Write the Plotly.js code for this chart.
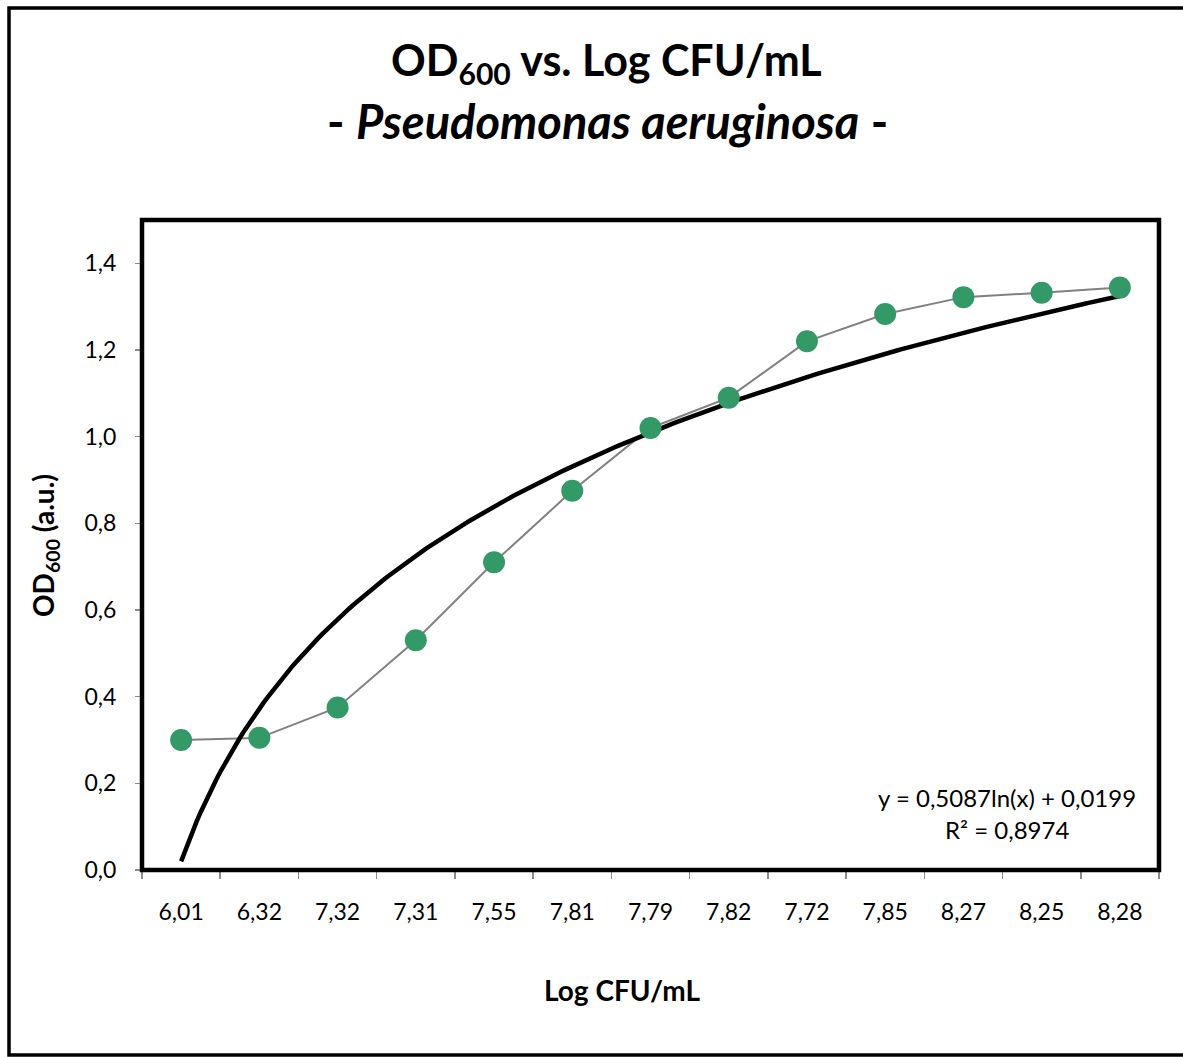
<!DOCTYPE html>
<html>
<head>
<meta charset="utf-8">
<script src="https://cdn.plot.ly/plotly-3.0.1.min.js"></script>
<style>
  html, body { margin: 0; padding: 0; background: #fff; }
  #chart { width: 1183px; height: 1057px; }
</style>
</head>
<body>
<div id="chart"></div>
<script>
// Log CFU/mL categories along the x axis
const logCfu = ['6,01', '6,32', '7,32', '7,31', '7,55', '7,81', '7,79', '7,82', '7,72', '7,85', '8,27', '8,25', '8,28'];
// Measured optical density at 600 nm
const od600 = [0.300, 0.305, 0.375, 0.530, 0.710, 0.875, 1.020, 1.090, 1.220, 1.283, 1.322, 1.332, 1.344];
// Logarithmic trendline coefficients: y = a*ln(x) + b, x = 1..n
const trendA = 0.5087;
const trendB = 0.0199;
const trendR2 = 0.8974;

const idx = logCfu.map((_, i) => i);
const boundaries = logCfu.map((_, i) => i - 0.5).concat([logCfu.length - 0.5]);

// Smooth trendline sampled along the category index
const trendX = [], trendY = [];
const steps = 240;
for (let k = 0; k <= steps; k++) {
  const xi = (logCfu.length - 1) * k / steps;
  trendX.push(xi);
  trendY.push(trendA * Math.log(xi + 1) + trendB);
}

const FONT = 'Lato, "Open Sans", "DejaVu Sans", sans-serif';

const data = [
  {
    x: idx, y: od600, type: 'scatter', mode: 'lines',
    line: { color: '#808080', width: 2 },
    hoverinfo: 'skip', showlegend: false
  },
  {
    x: trendX, y: trendY, type: 'scatter', mode: 'lines',
    line: { color: '#000000', width: 4.5 },
    hoverinfo: 'skip', showlegend: false
  },
  {
    x: idx, y: od600, type: 'scatter', mode: 'markers',
    marker: { color: '#339966', size: 22, line: { width: 0 } },
    showlegend: false
  },
  // invisible trace that carries the boundary tick marks
  {
    x: boundaries, y: boundaries.map(() => null), xaxis: 'x2', type: 'scatter',
    mode: 'markers', showlegend: false, hoverinfo: 'skip'
  }
];

// plot area in pixels
const L = 142, R = 1159, T = 220, B = 870;
const W = R - L, H = B - T;
const px = (p) => (p - L) / W;
const py = (p) => (B - p) / H;

const fmt = (v) => v.toFixed(4).replace('.', ',');

const layout = {
  width: 1183, height: 1057,
  margin: { l: L, r: 1183 - R, t: T, b: 1057 - B, pad: 0 },
  paper_bgcolor: '#ffffff', plot_bgcolor: '#ffffff',
  separators: ', ',
  font: { family: FONT, color: '#000000', size: 23 },
  showlegend: false,
  xaxis: {
    range: [-0.5, logCfu.length - 0.5],
    tickvals: idx, ticktext: logCfu, ticks: '',
    showgrid: false, zeroline: false, showline: false,
    tickfont: { family: FONT, size: 23, color: '#000' },
    ticklabelstandoff: 26
  },
  xaxis2: {
    overlaying: 'x', anchor: 'y', side: 'bottom',
    range: [-0.5, logCfu.length - 0.5],
    tickvals: boundaries, showticklabels: false,
    ticks: 'outside', ticklen: 8, tickwidth: 1.5, tickcolor: '#8c8c8c',
    showgrid: false, zeroline: false, showline: false
  },
  yaxis: {
    range: [0, 1.5], tick0: 0, dtick: 0.2, tickformat: '.1f',
    ticks: 'outside', ticklen: 6, tickwidth: 1.5, tickcolor: '#8c8c8c',
    showgrid: false, zeroline: false, showline: false,
    tickfont: { family: FONT, size: 23, color: '#000' },
    ticklabelstandoff: 14
  },
  annotations: [
    {
      text: 'OD<sub>600</sub> vs. Log CFU/mL',
      xref: 'paper', yref: 'paper', x: px(606), y: py(62),
      xanchor: 'center', yanchor: 'middle', showarrow: false,
      font: { family: FONT, size: 43, color: '#000', weight: 'bold' }
    },
    {
      text: '- <i>Pseudomonas aeruginosa</i> -',
      xref: 'paper', yref: 'paper', x: px(607), y: py(121),
      xanchor: 'center', yanchor: 'middle', showarrow: false,
      font: { family: FONT, size: 47, color: '#000', weight: 'bold' }
    },
    {
      text: 'Log CFU/mL',
      xref: 'paper', yref: 'paper', x: px(622), y: py(990),
      xanchor: 'center', yanchor: 'middle', showarrow: false,
      font: { family: FONT, size: 28, color: '#000', weight: 'bold' }
    },
    {
      text: 'OD<sub>600</sub> (a.u.)',
      xref: 'paper', yref: 'paper', x: px(45), y: py(546),
      xanchor: 'center', yanchor: 'middle', textangle: -90, showarrow: false,
      font: { family: FONT, size: 28, color: '#000', weight: 'bold' }
    },
    {
      text: 'y = ' + fmt(trendA) + 'ln(x) + ' + fmt(trendB),
      xref: 'paper', yref: 'paper', x: px(1007), y: py(797),
      xanchor: 'center', yanchor: 'middle', showarrow: false,
      font: { family: FONT, size: 24, color: '#000' }
    },
    {
      text: 'R² = ' + fmt(trendR2),
      xref: 'paper', yref: 'paper', x: px(1007), y: py(829),
      xanchor: 'center', yanchor: 'middle', showarrow: false,
      font: { family: FONT, size: 24, color: '#000' }
    }
  ],
  shapes: [
    // plot area frame, centred on the plot edges
    {
      type: 'rect', xref: 'paper', yref: 'paper', layer: 'above',
      x0: 0, x1: 1, y0: 0, y1: 1,
      line: { color: '#000000', width: 4.5 }, fillcolor: 'rgba(0,0,0,0)'
    },
    // outer chart frame
    {
      type: 'rect', xref: 'paper', yref: 'paper', layer: 'above',
      x0: px(9), x1: px(1200), y0: py(1055), y1: py(8),
      line: { color: '#000000', width: 3.5 }, fillcolor: 'rgba(0,0,0,0)'
    }
  ]
};

Plotly.newPlot('chart', data, layout, { staticPlot: true, displayModeBar: false });
</script>
</body>
</html>
